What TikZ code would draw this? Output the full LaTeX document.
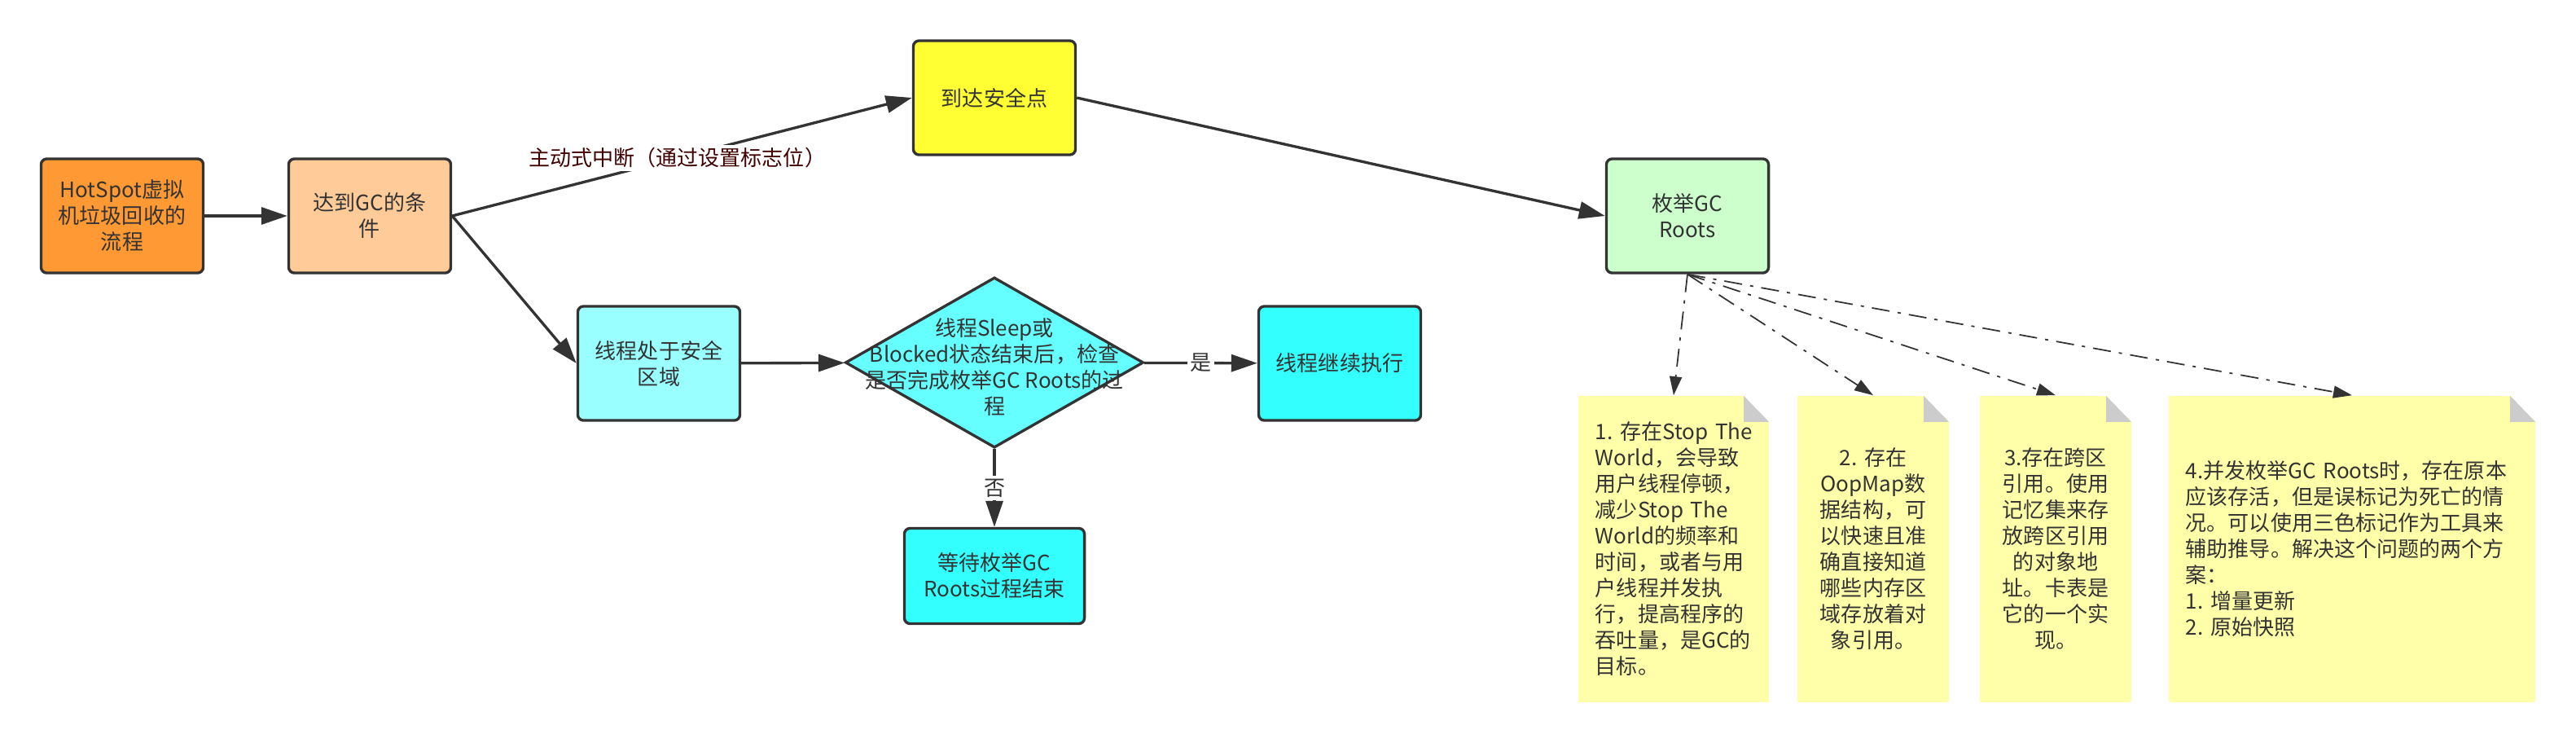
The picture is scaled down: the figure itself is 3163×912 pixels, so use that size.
\documentclass[tikz,border=0pt]{standalone}
\usepackage{fontspec}
\setmainfont{Noto Sans CJK SC}
\usepackage{xcolor}
\usetikzlibrary{shapes.geometric, arrows.meta, positioning}

\definecolor{inkgray}{HTML}{333333}
\definecolor{hotorange}{HTML}{FF9933}
\definecolor{condpeach}{HTML}{FFCC99}
\definecolor{safeyellow}{HTML}{FFFF33}
\definecolor{enumgreen}{HTML}{CCFFCC}
\definecolor{regioncyan}{HTML}{99FFFF}
\definecolor{deccyan}{HTML}{66FFFF}
\definecolor{runcyan}{HTML}{33FFFF}
\definecolor{noteyellow}{HTML}{FFFFAA}
\definecolor{foldgray}{HTML}{CCCCCC}
\definecolor{labelred}{HTML}{400000}

\begin{document}
\begin{tikzpicture}[x=0.01cm, y=-0.01cm,
    every node/.style={font=\fontsize{7.4}{9.1}\selectfont, text=inkgray},
    box/.style={rectangle, rounded corners=0.7mm, draw=inkgray, line width=0.95pt, align=center,
                inner sep=0pt, minimum width=1.99cm, minimum height=1.40cm},
    decision/.style={diamond, draw=inkgray, line width=0.95pt, inner sep=0pt,
                minimum width=3.66cm, minimum height=2.09cm},
    flow/.style={-{Triangle[length=3.2mm,width=2.1mm]}, draw=inkgray, line width=0.95pt},
    hint/.style={-{Triangle[length=2.3mm,width=1.5mm]}, draw=inkgray, line width=0.5pt,
                dash pattern=on 2.2mm off 1mm on 0.4mm off 1mm},
    onlabel/.style={fill=white, inner sep=1pt},
    note/.style={rectangle, fill=noteyellow, inner sep=0pt, inner xsep=0.21cm, minimum height=3.76cm,
      path picture={
        \fill[white] ([xshift=-0.31cm]path picture bounding box.north east)
          -- (path picture bounding box.north east)
          -- ([yshift=-0.32cm]path picture bounding box.north east) -- cycle;
        \fill[foldgray] ([xshift=-0.31cm]path picture bounding box.north east)
          -- ([xshift=-0.31cm,yshift=-0.32cm]path picture bounding box.north east)
          -- ([yshift=-0.32cm]path picture bounding box.north east) -- cycle;
      }},
  ]
    \useasboundingbox (0,0) rectangle (3163,912);

    % Nodes
    \node (hot) [box, fill=hotorange] at (150,265) {HotSpot虚拟\\机垃圾回收的\\流程};
    \node (cond) [box, fill=condpeach] at (454,265) {达到GC的条\\件};
    \node (safe) [box, fill=safeyellow] at (1221,120) {到达安全点};
    \node (enum) [box, fill=enumgreen] at (2072,265) {枚举GC\\Roots};
    \node (region) [box, fill=regioncyan] at (809,446) {线程处于安全\\区域};
    \node (dec) [decision, fill=deccyan] at (1221,445) {};
    \node (dectext) [align=center] at (1221,451) {线程Sleep或\\Blocked状态结束后，检查\\是否完成枚举GC Roots的过\\程};
    \node (cont) [box, fill=runcyan] at (1645,446) {线程继续执行};
    \node (wait) [box, fill=runcyan, minimum width=2.21cm, minimum height=1.17cm] at (1221,707) {等待枚举GC\\Roots过程结束};

    % Notes
    \node (n1) [note, text width=1.92cm, align=left] at (2055,674) {1.~存在Stop~The\\World，会导致\\用户线程停顿，\\减少Stop~The\\World的频率和\\时间，或者与用\\户线程并发执\\行，提高程序的\\吞吐量，是GC的\\目标。};
    \node (n2) [note, text width=1.44cm, align=center] at (2300,674) {2.~存在\\OopMap数\\据结构，可\\以快速且准\\确直接知道\\哪些内存区\\域存放着对\\象引用。};
    \node (n3) [note, text width=1.44cm, align=center] at (2524,674) {3.存在跨区\\引用。使用\\记忆集来存\\放跨区引用\\的对象地\\址。卡表是\\它的一个实\\现。};
    \node (n4) [note, text width=4.08cm, align=left] at (2888,674) {4.并发枚举GC~Roots时，存在原本\\应该存活，但是误标记为死亡的情\\况。可以使用三色标记作为工具来\\辅助推导。解决这个问题的两个方\\案：\\1.~增量更新\\2.~原始快照};

    % Arrows
    \draw[flow] (hot) -- (cond);
    \draw[flow] (cond.east) -- node[onlabel, pos=0.49, text=labelred] (breaklabel) {主动式中断（通过设置标志位）} (safe.west);
    \draw[flow] (cond.east) -- (region.west);
    \draw[flow] (safe.east) -- (enum.west);
    \draw[flow] (region) -- (dec);
    \draw[flow] (dec) -- node[onlabel] (yeslabel) {是} (cont);
    \draw[flow] (dec) -- node[onlabel] (nolabel) {否} (wait);
    \foreach \n in {n1, n2, n3, n4}
        \draw[hint] (enum.south) -- (\n.north);
\end{tikzpicture}
\end{document}
